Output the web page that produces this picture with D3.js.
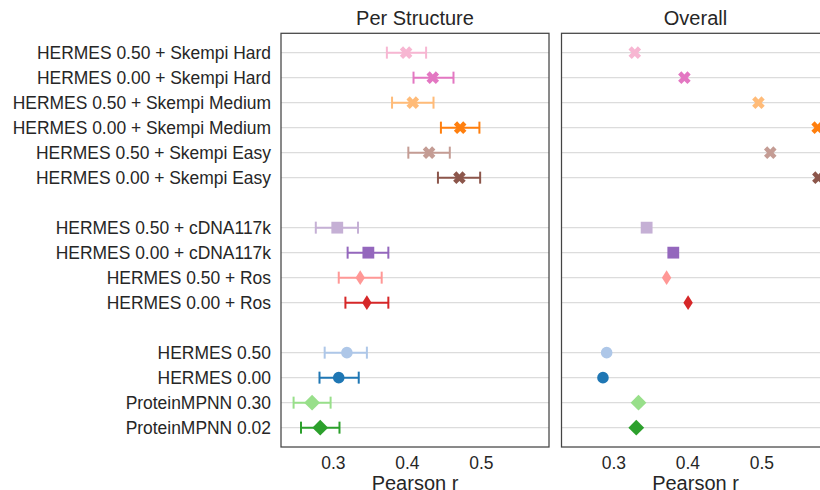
<!DOCTYPE html>
<html><head><meta charset="utf-8">
<script src="https://cdn.jsdelivr.net/npm/d3@7"></script>
<style>
body{margin:0;background:#fff;}
svg text{font-family:"Liberation Sans",Arial,Helvetica,sans-serif;fill:#262626;}
</style>
</head><body>
<svg id="chart" width="820" height="490"></svg>
<script>
// ---- data ----
const labels = [
  "HERMES 0.50 + Skempi Hard",
  "HERMES 0.00 + Skempi Hard",
  "HERMES 0.50 + Skempi Medium",
  "HERMES 0.00 + Skempi Medium",
  "HERMES 0.50 + Skempi Easy",
  "HERMES 0.00 + Skempi Easy",
  "HERMES 0.50 + cDNA117k",
  "HERMES 0.00 + cDNA117k",
  "HERMES 0.50 + Ros",
  "HERMES 0.00 + Ros",
  "HERMES 0.50",
  "HERMES 0.00",
  "ProteinMPNN 0.30",
  "ProteinMPNN 0.02"
];
const groupIndex = [0,0,0,0,0,0,1,1,1,1,2,2,2,2];
const perStructureMean = [0.399,0.435,0.408,0.472,0.430,0.471,0.306,0.348,0.337,0.346,0.319,0.308,0.272,0.283];
const perStructureLow  = [0.373,0.409,0.380,0.446,0.402,0.442,0.277,0.320,0.308,0.317,0.289,0.282,0.247,0.257];
const perStructureHigh = [0.426,0.463,0.436,0.498,0.458,0.499,0.334,0.375,0.366,0.375,0.346,0.335,0.297,0.309];
const overallValue     = [0.329,0.396,0.496,0.576,0.512,0.577,0.345,0.381,0.372,0.401,0.291,0.286,0.334,0.331];
const xTicks = [0.3,0.4,0.5];
const panelTitles = ["Per Structure","Overall"];
const xAxisLabel = "Pearson r";

// ---- styles ----
const colors = ["#f7b6d2","#e377c2","#ffbb78","#ff7f0e","#c49c94","#8c564b",
                "#c5b0d5","#9467bd","#ff9896","#d62728",
                "#aec7e8","#1f77b4","#98df8a","#2ca02c"];
const markerKinds = ["X","X","X","X","X","X","s","s","d","d","o","o","D","D"];

const markerTypes = {
  X: {draw(ctx){ const a=6.6,w=2.3;
      const pts=[[-w,-a],[w,-a],[w,-w],[a,-w],[a,w],[w,w],[w,a],[-w,a],[-w,w],[-a,w],[-a,-w],[-w,-w]];
      const c=Math.SQRT1_2;
      pts.forEach((p,i)=>{const px=(p[0]-p[1])*c,py=(p[0]+p[1])*c; i?ctx.lineTo(px,py):ctx.moveTo(px,py);});
      ctx.closePath();}},
  s: {draw(ctx){ const h=5.9; ctx.moveTo(-h,-h);ctx.lineTo(h,-h);ctx.lineTo(h,h);ctx.lineTo(-h,h);ctx.closePath();}},
  d: {draw(ctx){ const w=4.7,h=7.3; ctx.moveTo(0,-h);ctx.lineTo(w,0);ctx.lineTo(0,h);ctx.lineTo(-w,0);ctx.closePath();}},
  o: {draw(ctx){ const r=5.8; ctx.moveTo(r,0);ctx.arc(0,0,r,0,2*Math.PI);}},
  D: {draw(ctx){ const h=7.9; ctx.moveTo(0,-h);ctx.lineTo(h,0);ctx.lineTo(0,h);ctx.lineTo(-h,0);ctx.closePath();}}
};

// ---- layout ----
const svg = d3.select("#chart");
const plotTop = 33.3, plotBottom = 447, panelW = 268;
const panelX = [281, 561.5];
const fontSize = 17.45, titleSize = 20;

// slots with gaps between groups
const slots = [];
labels.forEach((l,i)=>{
  if(i>0 && groupIndex[i]!==groupIndex[i-1]) slots.push("__gap"+i);
  slots.push(l);
});
const y = d3.scalePoint().domain(slots).range([plotTop,plotBottom]).padding(0.774);
const x = d3.scaleLinear().domain([0.23,0.592]).range([0,panelW]);

const rows = labels.map((l,i)=>({label:l,mean:perStructureMean[i],lo:perStructureLow[i],hi:perStructureHigh[i],
  overall:overallValue[i],color:colors[i],marker:markerKinds[i]}));

panelX.forEach((px,p)=>{
  const g = svg.append("g").attr("transform",`translate(${px},0)`);
  // gridlines
  g.selectAll("line.grid").data(labels).join("line")
    .attr("x1",0).attr("x2",panelW).attr("y1",d=>y(d)).attr("y2",d=>y(d))
    .attr("stroke","#dcdcdc").attr("stroke-width",1.3);
  // frame
  g.append("rect").attr("x",0).attr("y",plotTop).attr("width",panelW).attr("height",plotBottom-plotTop)
    .attr("fill","none").attr("stroke","#444").attr("stroke-width",1.25);
  // x axis
  const ax = g.append("g").attr("transform",`translate(0,${plotBottom})`)
    .call(d3.axisBottom(x).tickValues(xTicks).tickFormat(d3.format(".1f")).tickSize(0).tickPadding(9.3));
  ax.select(".domain").remove();
  ax.selectAll("text").style("font-size",fontSize+"px").attr("fill","#262626")
    .style("font-family",'"Liberation Sans",Arial,sans-serif');
  // title & axis label
  g.append("text").attr("x",panelW/2).attr("y",24.5).attr("text-anchor","middle")
    .style("font-size",titleSize+"px").text(panelTitles[p]);
  g.append("text").attr("x",panelW/2).attr("y",490).attr("text-anchor","middle")
    .style("font-size",titleSize+"px").text(xAxisLabel);

  if(p===0){
    const eb = g.selectAll("g.eb").data(rows).join("g").attr("stroke",d=>d.color).attr("stroke-width",2).attr("fill","none");
    eb.append("line").attr("x1",d=>x(d.lo)).attr("x2",d=>x(d.hi)).attr("y1",d=>y(d.label)).attr("y2",d=>y(d.label));
    eb.append("line").attr("x1",d=>x(d.lo)).attr("x2",d=>x(d.lo)).attr("y1",d=>y(d.label)-6).attr("y2",d=>y(d.label)+6);
    eb.append("line").attr("x1",d=>x(d.hi)).attr("x2",d=>x(d.hi)).attr("y1",d=>y(d.label)-6).attr("y2",d=>y(d.label)+6);
    g.selectAll("path.mk").data(rows).join("path")
      .attr("transform",d=>`translate(${x(d.mean)},${y(d.label)})`)
      .attr("d",d=>d3.symbol(markerTypes[d.marker])())
      .attr("fill",d=>d.color);
  } else {
    g.selectAll("path.mk").data(rows).join("path")
      .attr("transform",d=>`translate(${x(d.overall)},${y(d.label)})`)
      .attr("d",d=>d3.symbol(markerTypes[d.marker])())
      .attr("fill",d=>d.color);
  }
});

// y labels
const yAxis = svg.append("g").attr("transform",`translate(${panelX[0]},0)`)
  .call(d3.axisLeft(y).tickValues(labels).tickSize(0).tickPadding(10));
yAxis.select(".domain").remove();
yAxis.selectAll("text").style("font-size",fontSize+"px").attr("fill","#262626")
  .style("font-family",'"Liberation Sans",Arial,sans-serif');
</script>
</body></html>
